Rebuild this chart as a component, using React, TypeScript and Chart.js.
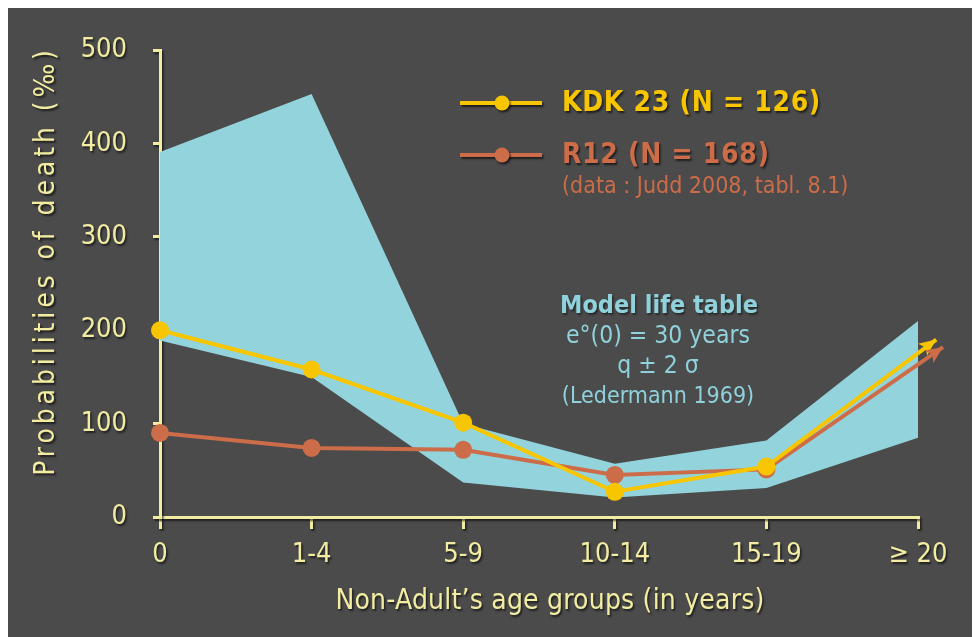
import React, { useEffect, useRef } from "react";
import { Chart, registerables } from "chart.js";

Chart.register(...registerables);

// ---- data ----
const categories = ["0", "1-4", "5-9", "10-14", "15-19", "≥ 20"];
const kdkValues = [200, 158, 101, 27, 54];
const kdkArrowEnd = [5.12, 190]; // [x index, value] of the trend arrow tip
const r12Values = [90, 74, 72, 45, 51];
const r12ArrowEnd = [5.165, 182];
const bandUpper = [391, 453, 100, 57, 82, 210];
const bandLower = [189, 150, 37, 21, 31, 85];
const yTicks = [0, 100, 200, 300, 400, 500];

// ---- style ----
const BG = "#4b4b4b";
const AXIS = "#f2eda2";
const YELLOW = "#f7c600";
const ORANGE = "#cc6c48";
const BAND = "#93d4dc";
const CYAN = "#8fd2dc";
const FONT = "'DejaVu Sans Condensed', 'DejaVu Sans', sans-serif";

const toPoints = (vals: number[], end?: number[]) => {
  const pts = vals.map((y, i) => ({ x: i, y }));
  if (end) pts.push({ x: end[0], y: end[1] });
  return pts;
};

const shadowPlugin = {
  id: "shadowPlugin",
  beforeDraw(chart: any) {
    const ctx = chart.ctx;
    ctx.save();
    ctx.shadowColor = "rgba(0,0,0,0.6)";
    ctx.shadowBlur = 2;
    ctx.shadowOffsetX = 1.5;
    ctx.shadowOffsetY = 2;
  },
  beforeDatasetsDraw(chart: any) {
    chart.ctx.restore();
  },
};

const arrowPlugin = {
  id: "arrowPlugin",
  afterDatasetsDraw(chart: any) {
    const ctx = chart.ctx;
    chart.data.datasets.forEach((ds: any, i: number) => {
      if (!ds.arrowColor) return;
      const meta = chart.getDatasetMeta(i);
      const n = meta.data.length;
      const tip = meta.data[n - 1];
      const prev = meta.data[n - 2];
      const ang = Math.atan2(tip.y - prev.y, tip.x - prev.x);
      const len = 17;
      const half = 7.5;
      const bx = tip.x - len * Math.cos(ang);
      const by = tip.y - len * Math.sin(ang);
      ctx.save();
      ctx.fillStyle = ds.arrowColor;
      ctx.beginPath();
      ctx.moveTo(tip.x, tip.y);
      ctx.lineTo(bx + half * Math.sin(ang), by - half * Math.cos(ang));
      ctx.lineTo(bx + 4 * Math.cos(ang), by + 4 * Math.sin(ang));
      ctx.lineTo(bx - half * Math.sin(ang), by + half * Math.cos(ang));
      ctx.closePath();
      ctx.fill();
      ctx.restore();
    });
  },
};

const setSpacing = (ctx: any, v: string) => {
  if ("letterSpacing" in ctx) ctx.letterSpacing = v;
};

const textPlugin = {
  id: "textPlugin",
  afterDraw(chart: any) {
    const ctx = chart.ctx;
    ctx.save();
    ctx.shadowColor = "rgba(0,0,0,0.6)";
    ctx.shadowBlur = 2;
    ctx.shadowOffsetX = 1.5;
    ctx.shadowOffsetY = 2;
    ctx.textBaseline = "middle";

    // axis titles
    ctx.fillStyle = AXIS;
    ctx.font = `28px ${FONT}`;
    ctx.textAlign = "center";
    setSpacing(ctx, "0.2px");
    ctx.fillText("Non-Adult\u2019s age groups (in years)", 542, 594);
    ctx.save();
    ctx.translate(39, 253);
    ctx.rotate(-Math.PI / 2);
    setSpacing(ctx, "3.9px");
    ctx.fillText("Probabilities of death (\u2030)", 0, 0);
    ctx.restore();
    setSpacing(ctx, "0px");

    // legend
    const legend = [
      { color: YELLOW, y: 95, label: "KDK 23 (N = 126)" },
      { color: ORANGE, y: 147, label: "R12 (N = 168)" },
    ];
    legend.forEach((l) => {
      ctx.strokeStyle = l.color;
      ctx.lineWidth = 4;
      ctx.beginPath();
      ctx.moveTo(452, l.y);
      ctx.lineTo(534, l.y);
      ctx.stroke();
      ctx.fillStyle = l.color;
      ctx.beginPath();
      ctx.arc(494, l.y, 7.5, 0, Math.PI * 2);
      ctx.fill();
      ctx.textAlign = "left";
      ctx.font = `bold 28px ${FONT}`;
      setSpacing(ctx, "0.7px");
      ctx.fillText(l.label, 554, l.y + 1);
      setSpacing(ctx, "0px");
    });
    ctx.shadowColor = "transparent";
    ctx.fillStyle = ORANGE;
    ctx.font = `23px ${FONT}`;
    ctx.fillText("(data : Judd 2008, tabl. 8.1)", 554, 179);

    // model life table note
    ctx.fillStyle = CYAN;
    ctx.textAlign = "center";
    ctx.shadowColor = "rgba(0,0,0,0.45)";
    ctx.font = `bold 25px ${FONT}`;
    ctx.fillText("Model life table", 651, 298);
    ctx.shadowColor = "transparent";
    ctx.font = `24.5px ${FONT}`;
    ctx.fillText("e\u00b0(0) = 30 years", 650, 329);
    ctx.fillText("q \u00b1 2 \u03c3", 650, 359);
    ctx.font = `23px ${FONT}`;
    ctx.fillText("(Ledermann 1969)", 650, 389);
    ctx.restore();
  },
};

export default function App() {
  const ref = useRef<HTMLCanvasElement>(null);
  useEffect(() => {
    if (!ref.current) return;
    const chart = new Chart(ref.current, {
      type: "line",
      data: {
        datasets: [
          {
            label: "KDK 23",
            data: toPoints(kdkValues, kdkArrowEnd),
            borderColor: YELLOW,
            backgroundColor: YELLOW,
            borderWidth: 4,
            pointRadius: [9, 9, 9, 9, 9, 0],
            pointHoverRadius: 0,
            pointBorderWidth: 0,
            clip: false,
            order: 1,
            arrowColor: YELLOW,
          } as any,
          {
            label: "R12",
            data: toPoints(r12Values, r12ArrowEnd),
            borderColor: ORANGE,
            backgroundColor: ORANGE,
            borderWidth: 4,
            pointRadius: [9, 9, 9, 9, 9, 0],
            pointBorderWidth: 0,
            clip: false,
            order: 2,
            arrowColor: ORANGE,
          } as any,
          {
            label: "upper",
            data: toPoints(bandUpper),
            borderWidth: 0,
            pointRadius: 0,
            backgroundColor: BAND,
            fill: "+1",
            order: 3,
          },
          {
            label: "lower",
            data: toPoints(bandLower),
            borderWidth: 0,
            pointRadius: 0,
            backgroundColor: BAND,
            fill: false,
            order: 4,
          },
        ],
      },
      options: {
        animation: false,
        responsive: false,
        maintainAspectRatio: false,
        layout: { padding: { top: 40, right: 62, left: 0, bottom: 0 } },
        plugins: {
          legend: { display: false },
          tooltip: { enabled: false },
          filler: { propagate: false },
        },
        elements: { line: { tension: 0, borderCapStyle: "butt" } },
        scales: {
          x: {
            type: "linear",
            min: 0,
            max: 5,
            afterFit: (s: any) => {
              s.height = 120;
            },
            afterBuildTicks: (s: any) => {
              s.ticks = categories.map((_, i) => ({ value: i }));
            },
            ticks: {
              color: AXIS,
              font: { family: FONT, size: 27 },
              padding: 10,
              maxRotation: 0,
              autoSkip: false,
              callback: (v: any) => categories[Number(v)] ?? "",
            },
            grid: {
              drawOnChartArea: false,
              drawTicks: true,
              tickLength: 12,
              color: AXIS,
              lineWidth: 3,
            },
            border: { color: AXIS, width: 3 },
          },
          y: {
            type: "linear",
            min: 0,
            max: 500,
            afterFit: (s: any) => {
              s.width = 152;
            },
            afterBuildTicks: (s: any) => {
              s.ticks = yTicks.map((v) => ({ value: v }));
            },
            ticks: {
              color: AXIS,
              font: { family: FONT, size: 27 },
              padding: 26,
            },
            grid: {
              drawOnChartArea: false,
              drawTicks: true,
              tickLength: 7,
              color: AXIS,
              lineWidth: 3,
            },
            border: { color: AXIS, width: 3 },
          },
        },
      },
      plugins: [shadowPlugin, arrowPlugin, textPlugin],
    });
    return () => chart.destroy();
  }, []);

  return (
    <div style={{ width: 972, height: 629, background: BG, overflow: "hidden" }}>
      <canvas ref={ref} width={972} height={629} style={{ display: "block" }} />
    </div>
  );
}
